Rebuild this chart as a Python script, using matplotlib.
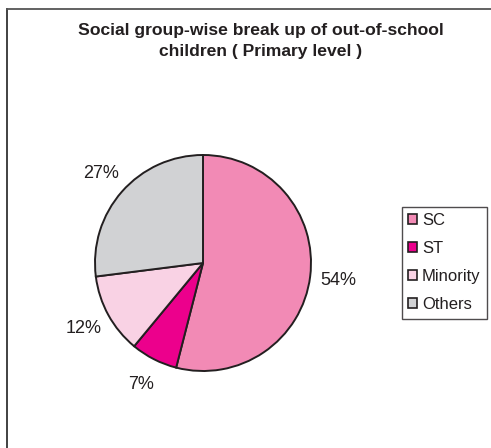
import matplotlib
matplotlib.use("Agg")
import matplotlib.pyplot as plt
from matplotlib.patches import Patch
from matplotlib.lines import Line2D

categories = ["SC", "ST", "Minority", "Others"]
values = [54, 7, 12, 27]
colors = ["#F28AB5", "#EC008C", "#F9D2E4", "#D1D2D4"]
title = "Social group-wise break up of out-of-school\nchildren ( Primary level )"

plt.rcParams['font.family'] = ['Liberation Sans', 'DejaVu Sans']

W, H = 491, 448
fig = plt.figure(figsize=(W / 100, H / 100), dpi=100)

cx, cy, r = 203, 263, 108
ax = fig.add_axes([(cx - r) / W, (H - cy - r) / H, 2 * r / W, 2 * r / H])
wedges, texts, autotexts = ax.pie(
    values, colors=colors, startangle=90, counterclock=False,
    autopct="%.0f%%", pctdistance=1.26,
    wedgeprops=dict(edgecolor="#231F20", linewidth=1.4),
    textprops=dict(fontsize=13, color="#231F20"),
)
ax.set_xlim(-1, 1)
ax.set_ylim(-1, 1)
ax.set_aspect("auto")
ax.axis("off")

fig.text(261 / W, 1 - 23 / H, title, ha="center", va="top", fontsize=12.6,
         fontweight="bold", color="#231F20", linespacing=1.5)

handles = [Patch(facecolor=c, edgecolor="#231F20", linewidth=1.2) for c in colors]
leg = fig.legend(handles, categories, loc="upper right",
                 bbox_to_anchor=(487 / W, 1 - 207 / H), fontsize=12,
                 frameon=True, fancybox=False, handlelength=0.55, handleheight=0.55,
                 handletextpad=0.3, labelspacing=0.78, borderpad=0.38,
                 borderaxespad=0)
leg.get_frame().set_edgecolor("#231F20")
leg.get_frame().set_linewidth(1.0)
for t in leg.get_texts():
    t.set_color("#231F20")

# partial figure border (left and top)
fig.add_artist(Line2D([7 / W, 7 / W], [0, 1 - 9 / H], transform=fig.transFigure,
                      color="#333333", linewidth=1.3))
fig.add_artist(Line2D([7 / W, 1], [1 - 9 / H, 1 - 9 / H], transform=fig.transFigure,
                      color="#555555", linewidth=1.3))

fig.savefig("out.png", dpi=100)
